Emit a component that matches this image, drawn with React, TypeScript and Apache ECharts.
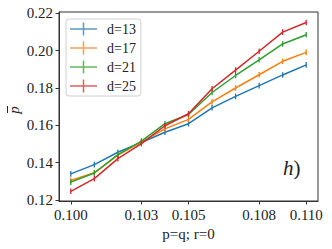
import React, { useEffect, useRef } from "react";
import * as echarts from "echarts";

const xValues = [0.1, 0.101, 0.102, 0.103, 0.104, 0.105, 0.106, 0.107, 0.108, 0.109, 0.11];
const d13 = [0.134, 0.139, 0.1456, 0.1508, 0.1563, 0.1609, 0.1694, 0.1755, 0.1813, 0.187, 0.1924];
const d17 = [0.1305, 0.1346, 0.1441, 0.151, 0.1581, 0.1632, 0.1726, 0.18, 0.1871, 0.1943, 0.1991];
const d21 = [0.1296, 0.1345, 0.1443, 0.1516, 0.1609, 0.1658, 0.1776, 0.1867, 0.1951, 0.2036, 0.2085];
const d25 = [0.1247, 0.1315, 0.1422, 0.1502, 0.1598, 0.1662, 0.1796, 0.1896, 0.1997, 0.2099, 0.2151];
const errors = [0.0015, 0.0015, 0.0015, 0.0015, 0.0015, 0.0015, 0.0015, 0.0015, 0.0015, 0.0015, 0.0015];
const seriesNames = ["d=13", "d=17", "d=21", "d=25"];
const seriesValues = [d13, d17, d21, d25];
const colors = ["#1f77b4", "#ff7f0e", "#2ca02c", "#d62728"];
const xTicks = [0.1, 0.103, 0.105, 0.108, 0.11];
const yTicks = [0.12, 0.14, 0.16, 0.18, 0.2, 0.22];

const FONT = "Liberation Serif";
const ICON = "path://M0,5.75h27v1.5h-27z M12.75,0h1.5v13h-1.5z";

export default function App() {
  const ref = useRef<HTMLDivElement>(null);
  useEffect(() => {
    if (!ref.current) return;
    const chart = echarts.init(ref.current, null, { renderer: "svg" });
    const lineSeries = seriesNames.map((name, i) => ({
      name,
      type: "line",
      data: xValues.map((x, j) => [x, seriesValues[i][j]]),
      showSymbol: false,
      symbol: "none",
      lineStyle: { color: colors[i], width: 1.5 },
      itemStyle: { color: colors[i] },
      z: 2 + i,
    }));
    const errSeries = seriesNames.map((name, i) => ({
      name: name + " err",
      type: "custom",
      data: xValues.map((x, j) => [x, seriesValues[i][j], errors[j]]),
      z: 2 + i,
      renderItem: (params: any, api: any) => {
        const x = api.value(0);
        const y = api.value(1);
        const e = api.value(2);
        const top = api.coord([x, y + e]);
        const bot = api.coord([x, y - e]);
        return {
          type: "line",
          shape: { x1: top[0], y1: top[1], x2: bot[0], y2: bot[1] },
          style: { stroke: colors[i], lineWidth: 1.3 },
        };
      },
    }));
    chart.setOption({
      animation: false,
      grid: { left: 59, top: 12, right: 14, bottom: 48, containLabel: false },
      xAxis: {
        type: "value",
        min: 0.0995,
        max: 0.1105,
        name: "p=q; r=0",
        nameLocation: "middle",
        nameGap: 25,
        nameTextStyle: { fontFamily: FONT, fontSize: 15, color: "#222" },
        axisLine: { show: true, lineStyle: { color: "#333", width: 1 } },
        axisTick: { show: true, length: 3.5, inside: false, customValues: xTicks, lineStyle: { color: "#333" } },
        axisLabel: {
          customValues: xTicks,
          formatter: (v: number) => v.toFixed(3),
          fontFamily: FONT,
          fontSize: 15,
          color: "#222",
          margin: 6,
        },
        splitLine: { show: false },
      },
      yAxis: {
        type: "value",
        min: 0.1195,
        max: 0.2207,
        axisLine: { show: true, lineStyle: { color: "#333", width: 1 } },
        axisTick: { show: true, length: 3.5, customValues: yTicks, lineStyle: { color: "#333" } },
        axisLabel: {
          customValues: yTicks,
          formatter: (v: number) => v.toFixed(2),
          fontFamily: FONT,
          fontSize: 15,
          color: "#222",
          margin: 6,
        },
        splitLine: { show: false },
      },
      legend: {
        data: seriesNames,
        orient: "vertical",
        left: 66,
        top: 19,
        icon: ICON,
        itemWidth: 27,
        itemHeight: 13,
        itemGap: 5,
        padding: [3, 5, 3, 4],
        backgroundColor: "rgba(255,255,255,0.8)",
        borderColor: "#d0d0d0",
        borderWidth: 1,
        borderRadius: 3,
        itemStyle: { opacity: 0.75 },
        textStyle: { fontFamily: FONT, fontSize: 14, color: "#222", padding: [0, 0, 0, 5] },
      },
      graphic: [
        {
          type: "rect",
          shape: { x: 59, y: 12, width: 259, height: 189 },
          style: { fill: "none", stroke: "#333", lineWidth: 1 },
          silent: true,
          z: 0,
        },
        {
          type: "text",
          x: 14,
          y: 110,
          rotation: Math.PI / 2,
          style: { text: "p", font: `italic 15px "${FONT}"`, align: "center", verticalAlign: "middle", fill: "#222" },
        },
        {
          type: "line",
          shape: { x1: 7.5, y1: 106, x2: 7.5, y2: 113 },
          style: { stroke: "#222", lineWidth: 1 },
        },
        {
          type: "text",
          x: 283,
          y: 168,
          style: {
            text: "{i|h})",
            font: `21px "${FONT}"`,
            verticalAlign: "middle",
            fill: "#222",
            rich: { i: { fontStyle: "italic", fontSize: 21, fontFamily: FONT, fill: "#222" } },
          },
        },
      ],
      series: [...lineSeries, ...errSeries],
    });
    return () => chart.dispose();
  }, []);
  return <div ref={ref} style={{ width: 332, height: 249, position: "absolute", left: 0, top: 0 }} />;
}
